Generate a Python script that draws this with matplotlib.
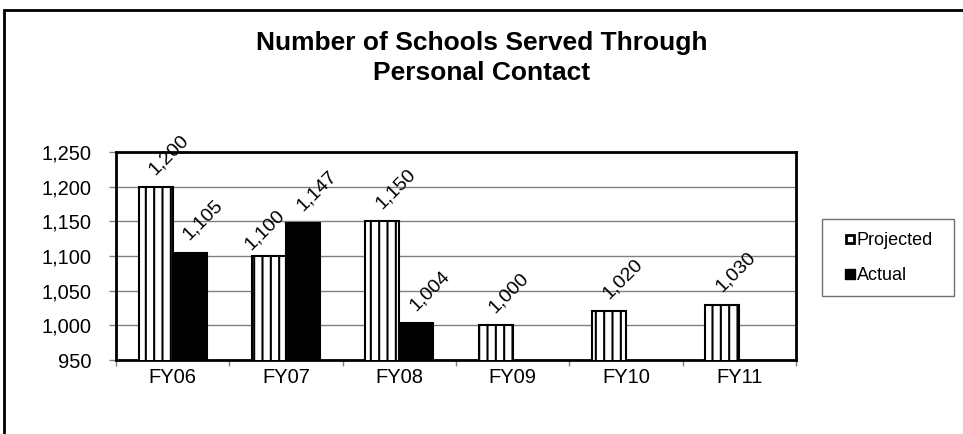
import matplotlib
matplotlib.use("Agg")
import matplotlib.pyplot as plt
import numpy as np
from matplotlib.patches import Rectangle
from matplotlib.lines import Line2D
from matplotlib.ticker import FixedLocator, StrMethodFormatter

plt.rcParams['font.family'] = ['Liberation Sans', 'DejaVu Sans']
plt.rcParams['hatch.linewidth'] = 1.5

years = ["FY06", "FY07", "FY08", "FY09", "FY10", "FY11"]
projected = [1200, 1100, 1150, 1000, 1020, 1030]
actual = [1105, 1147, 1004, None, None, None]

# small manual nudges for labels that Excel moved (points)
proj_nudge = {1: (-13, -4)}

W, H = 963, 434
fig = plt.figure(figsize=(W / 100, H / 100), dpi=100)
ax = fig.add_axes([116 / W, 1 - 360 / H, (796 - 116) / W, (360 - 152) / H])

x = np.arange(len(years))
bw = 0.3
ax.bar(x - bw / 2, projected, bw, color="white", edgecolor="black",
       hatch="||", linewidth=1.5, zorder=3)
act_x = np.array([xi for xi, v in zip(x, actual) if v is not None])
act_v = [v for v in actual if v is not None]
ax.bar(act_x + bw / 2, act_v, bw, color="black", edgecolor="black",
       linewidth=1.5, zorder=3)

# rotated value labels
for i, (xi, v) in enumerate(zip(x, projected)):
    dx, dy = proj_nudge.get(i, (0, 0))
    ax.annotate(f"{v:,}", (xi - bw / 2, v), xytext=(-0.5 + dx, 8.5 + dy),
                textcoords="offset points", rotation=45, rotation_mode="anchor",
                ha="left", va="baseline", fontsize=14, annotation_clip=False)
for xi, v in zip(act_x, act_v):
    ax.annotate(f"{v:,}", (xi + bw / 2, v), xytext=(-0.5, 8.5),
                textcoords="offset points", rotation=45, rotation_mode="anchor",
                ha="left", va="baseline", fontsize=14, annotation_clip=False)

ax.set_ylim(950, 1250)
ax.set_xlim(-0.5, len(years) - 0.5)
ax.set_yticks(np.arange(950, 1251, 50))
ax.yaxis.set_major_formatter(StrMethodFormatter("{x:,.0f}"))
ax.yaxis.grid(True, color="#808080", linewidth=1)
ax.set_axisbelow(True)

ax.xaxis.set_major_locator(FixedLocator(np.arange(-0.5, len(years), 1.0)))
ax.xaxis.set_major_formatter(plt.NullFormatter())
ax.xaxis.set_minor_locator(FixedLocator(x))
ax.set_xticklabels(years, minor=True)
ax.tick_params(axis="x", which="major", length=4, color="#808080", width=1)
ax.tick_params(axis="x", which="minor", length=0, pad=6, labelsize=14.5)
ax.tick_params(axis="y", length=5, color="#808080", width=1, pad=13, labelsize=14.5)

for s in ax.spines.values():
    s.set_linewidth(2)
    s.set_color("black")

# legend: frame drawn separately to match the reference box
handles = [Line2D([], [], marker="s", markersize=6, markerfacecolor="white",
                  markeredgecolor="black", markeredgewidth=2, linestyle="none"),
           Line2D([], [], marker="s", markersize=7, markerfacecolor="black",
                  markeredgecolor="black", linestyle="none")]
leg = fig.legend(handles, ["Projected", "Actual"], loc="center",
                 bbox_to_anchor=(889 / W, 1 - 258 / H), fontsize=13,
                 frameon=False, handlelength=0.5, handletextpad=0.15,
                 labelspacing=1.0, borderpad=0, borderaxespad=0)
fig.patches.append(Rectangle((822 / W, 1 - 296 / H), 132 / W, 77 / H,
                             transform=fig.transFigure, fill=False,
                             edgecolor="#707070", linewidth=1))

fig.text(0.5, 1 - 50 / H, "Number of Schools Served Through", ha="center",
         va="baseline", fontsize=19, fontweight="bold")
fig.text(0.5, 1 - 80 / H, "Personal Contact", ha="center", va="baseline",
         fontsize=19, fontweight="bold")

# outer chart border (runs off right and bottom edges)
fig.patches.append(Rectangle((4 / W, -0.2), 1.2, 1.2 - 10.5 / H,
                             transform=fig.transFigure, fill=False,
                             edgecolor="black", linewidth=2))

fig.savefig("out.png", dpi=100)
